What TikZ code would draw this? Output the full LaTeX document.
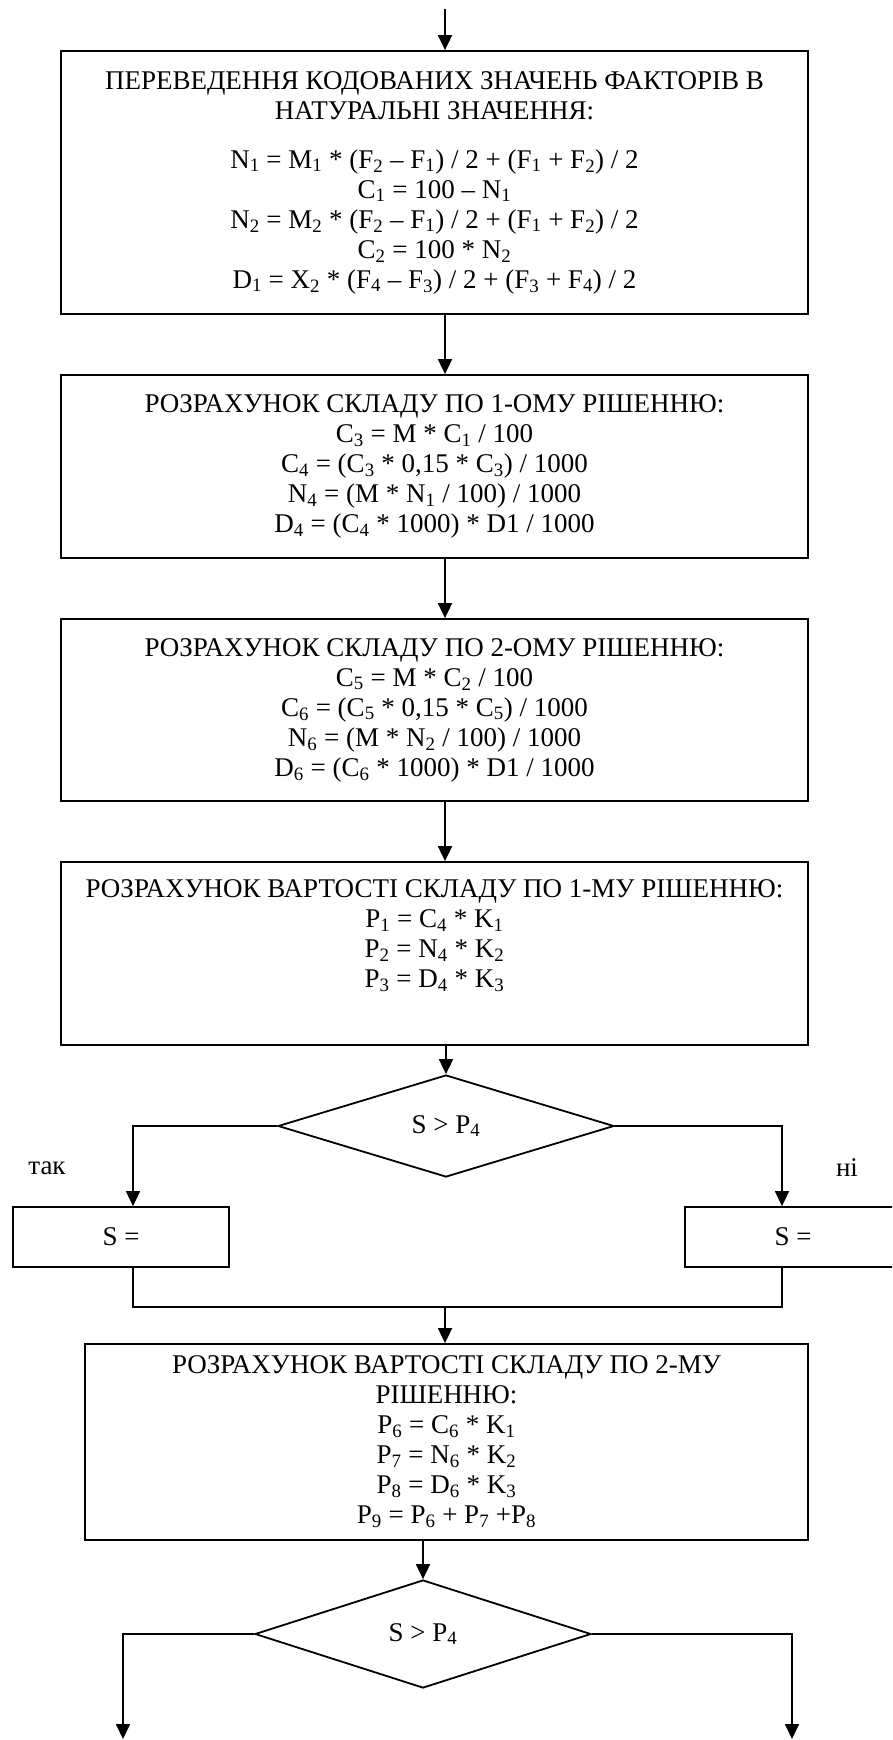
\documentclass[tikz,border=0pt]{standalone}
\usepackage{fontspec}
\setmainfont{Liberation Serif}
\usetikzlibrary{arrows.meta,shapes.geometric}
\newcommand{\sbs}[1]{\textsubscript{#1}}
\begin{document}
\begin{tikzpicture}[x=1pt,y=-1pt,
  every node/.style={font=\fontsize{27}{30}\selectfont},
  box/.style={draw, line width=1.8pt, inner sep=0pt, align=center},
  dia/.style={draw, line width=1.8pt, shape=diamond, inner sep=0pt, aspect=3.3, minimum width=336pt},
  arr/.style={line width=1.8pt, -{Triangle[length=15pt,width=14pt]}},
  ln/.style={line width=1.8pt}]
\useasboundingbox (0,0) rectangle (892,1740);
\clip (0,0) rectangle (892,1740);
\fill[white] (0,0) rectangle (892,1740);

\node[box, minimum width=747pt, minimum height=263pt] (b1) at (434.5,182.5)
 {ПЕРЕВЕДЕННЯ КОДОВАНИХ ЗНАЧЕНЬ ФАКТОРІВ В\\
  НАТУРАЛЬНІ ЗНАЧЕННЯ:\\[19pt]
  N\sbs{1} = M\sbs{1} * (F\sbs{2} – F\sbs{1}) / 2 + (F\sbs{1} + F\sbs{2}) / 2\\
  C\sbs{1} = 100 – N\sbs{1}\\
  N\sbs{2} = M\sbs{2} * (F\sbs{2} – F\sbs{1}) / 2 + (F\sbs{1} + F\sbs{2}) / 2\\
  C\sbs{2} = 100 * N\sbs{2}\\
  D\sbs{1} = X\sbs{2} * (F\sbs{4} – F\sbs{3}) / 2 + (F\sbs{3} + F\sbs{4}) / 2};

\node[box, minimum width=747pt, minimum height=183pt] (b2) at (434.5,466.5)
 {РОЗРАХУНОК СКЛАДУ ПО 1-ОМУ РІШЕННЮ:\\
  C\sbs{3} = M * C\sbs{1} / 100\\
  C\sbs{4} = (C\sbs{3} * 0,15 * C\sbs{3}) / 1000\\
  N\sbs{4} = (M * N\sbs{1} / 100) / 1000\\
  D\sbs{4} = (C\sbs{4} * 1000) * D1 / 1000};

\node[box, minimum width=747pt, minimum height=182pt] (b3) at (434.5,710)
 {РОЗРАХУНОК СКЛАДУ ПО 2-ОМУ РІШЕННЮ:\\
  C\sbs{5} = M * C\sbs{2} / 100\\
  C\sbs{6} = (C\sbs{5} * 0,15 * C\sbs{5}) / 1000\\
  N\sbs{6} = (M * N\sbs{2} / 100) / 1000\\
  D\sbs{6} = (C\sbs{6} * 1000) * D1 / 1000};

\node[box, minimum width=747pt, minimum height=183pt] (b4) at (434.5,953.5)
 {РОЗРАХУНОК ВАРТОСТІ СКЛАДУ ПО 1-МУ РІШЕННЮ:\\
  P\sbs{1} = C\sbs{4} * K\sbs{1}\\
  P\sbs{2} = N\sbs{4} * K\sbs{2}\\
  P\sbs{3} = D\sbs{4} * K\sbs{3}\\
  \strut};

\node[dia, minimum height=102pt] (d1) at (446,1126) {S > P\sbs{4}};

\node[box, minimum width=216pt, minimum height=60pt] (sL) at (121,1237) {S =};
\node[box, minimum width=216pt, minimum height=60pt] (sR) at (793,1237) {S =};
\node (tak) at (47,1168) {так};
\node (ni) at (847,1168) {ні};

\node[box, minimum width=723pt, minimum height=196pt] (b5) at (446.5,1442)
 {РОЗРАХУНОК ВАРТОСТІ СКЛАДУ ПО 2-МУ\\
  РІШЕННЮ:\\
  P\sbs{6} = C\sbs{6} * K\sbs{1}\\
  P\sbs{7} = N\sbs{6} * K\sbs{2}\\
  P\sbs{8} = D\sbs{6} * K\sbs{3}\\
  P\sbs{9} = P\sbs{6} + P\sbs{7} +P\sbs{8}};

\node[dia, minimum height=108pt] (d2) at (423,1634) {S > P\sbs{4}};

\coordinate (start) at (445,9);
\coordinate (m) at (445,1307);
\coordinate (eL) at (123,1739);
\coordinate (eR) at (792,1739);

\draw[arr] (start) -- (start |- b1.north);
\draw[arr] (b1.south -| start) -- (b2.north -| start);
\draw[arr] (b2.south -| start) -- (b3.north -| start);
\draw[arr] (b3.south -| start) -- (b4.north -| start);
\draw[arr] (b4.south -| d1.north) -- (d1.north);
\draw[arr] (d1.west) -| ([xshift=12pt]sL.north);
\draw[arr] (d1.east) -| ([xshift=-11pt]sR.north);
\draw[ln] ([xshift=12pt]sL.south) |- (m) -| ([xshift=-11pt]sR.south);
\draw[arr] (m) -- (m |- b5.north);
\draw[arr] (b5.south -| d2.north) -- (d2.north);
\draw[arr] (d2.west) -| (eL);
\draw[arr] (d2.east) -| (eR);
\end{tikzpicture}
\end{document}
